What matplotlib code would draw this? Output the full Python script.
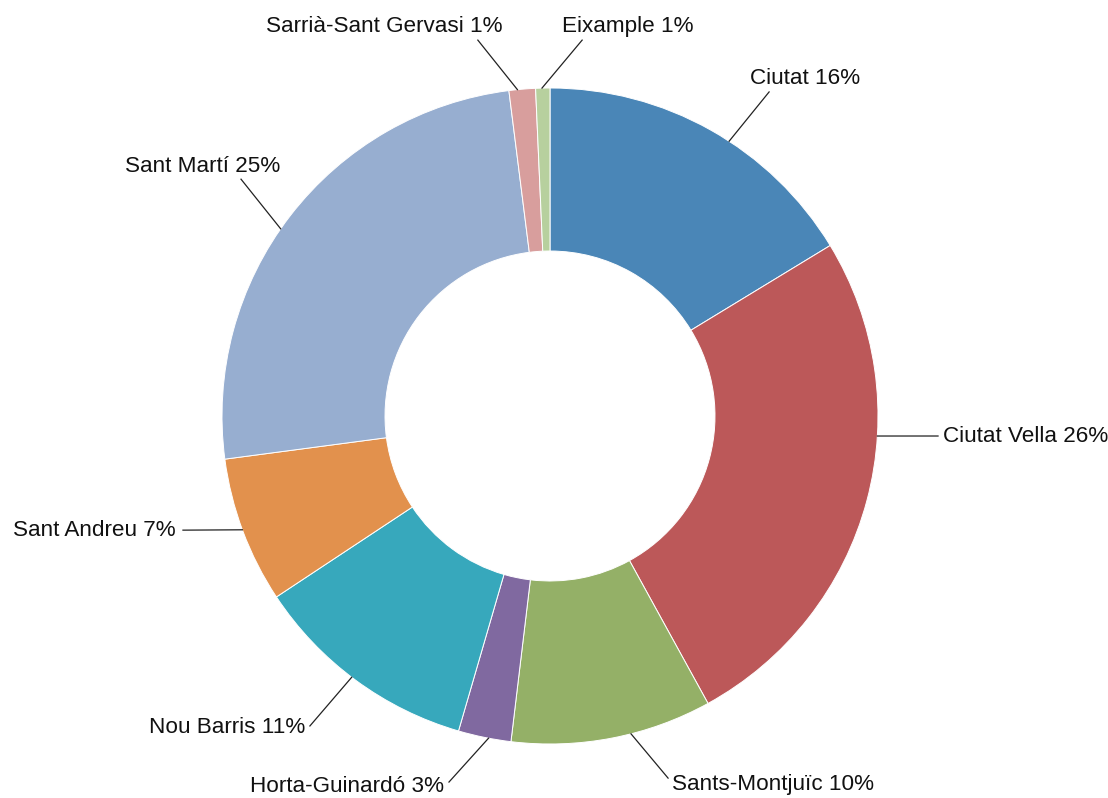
import numpy as np
import matplotlib
matplotlib.use('Agg')
import matplotlib.pyplot as plt

plt.rcParams['font.family'] = ['Liberation Sans', 'DejaVu Sans']

# districts, clockwise from 12 o'clock
districts = ['Ciutat', 'Ciutat Vella', 'Sants-Montjuïc', 'Horta-Guinardó',
             'Nou Barris', 'Sant Andreu', 'Sant Martí', 'Sarrià-Sant Gervasi',
             'Eixample']
shares = [16.3, 25.7, 9.9, 2.6, 11.2, 7.2, 25.1, 1.3, 0.7]
colors = ['#4a86b7', '#bc5859', '#94b067', '#8069a0', '#37a8bc',
          '#e2914d', '#97aed0', '#d89e9d', '#b7d09e']

# label layout (data units, outer radius = 1)
leader_angle = [33.1, 93.5, 165.7, 190.8, 217.2, 249.7, 304.8, 354.3, 358.6]
leader_end = [(0.668, 0.988), (1.183, -0.061), (0.360, -1.104),
              (-0.308, -1.116), (-0.732, -0.945), (-1.119, -0.348),
              (-0.942, 0.722), (-0.220, 1.146), (0.098, 1.146)]
text_pos = [(0.610, 1.030), (1.198, -0.061), (0.372, -1.122),
            (-0.323, -1.131), (-0.747, -0.951), (-1.140, -0.348),
            (-1.058, 0.762), (-0.506, 1.189), (0.238, 1.189)]
text_ha = ['left', 'left', 'left', 'right', 'right', 'right', 'center',
           'center', 'center']

fig = plt.figure(figsize=(11.08, 7.98), dpi=100)
ax = fig.add_axes([0, 0, 1, 1])

ax.pie(shares, colors=colors, startangle=90, counterclock=False, radius=1.0,
       wedgeprops=dict(width=0.497, edgecolor='white', linewidth=0.7))

for i, name in enumerate(districts):
    a = np.deg2rad(leader_angle[i])
    x0, y0 = np.sin(a), np.cos(a)
    x1, y1 = leader_end[i]
    ax.plot([x0, x1], [y0, y1], color='#222222', lw=0.9)
    ax.text(text_pos[i][0], text_pos[i][1],
            '{} {}%'.format(name, int(round(shares[i]))),
            ha=text_ha[i], va='center', fontsize=16.2, color='#111111')

ax.set_xlim(-550 / 328., (1108 - 550) / 328.)
ax.set_ylim(-382 / 328., 416 / 328.)
ax.set_aspect('equal', adjustable='datalim')
ax.axis('off')

fig.savefig('out.png', dpi=100)
